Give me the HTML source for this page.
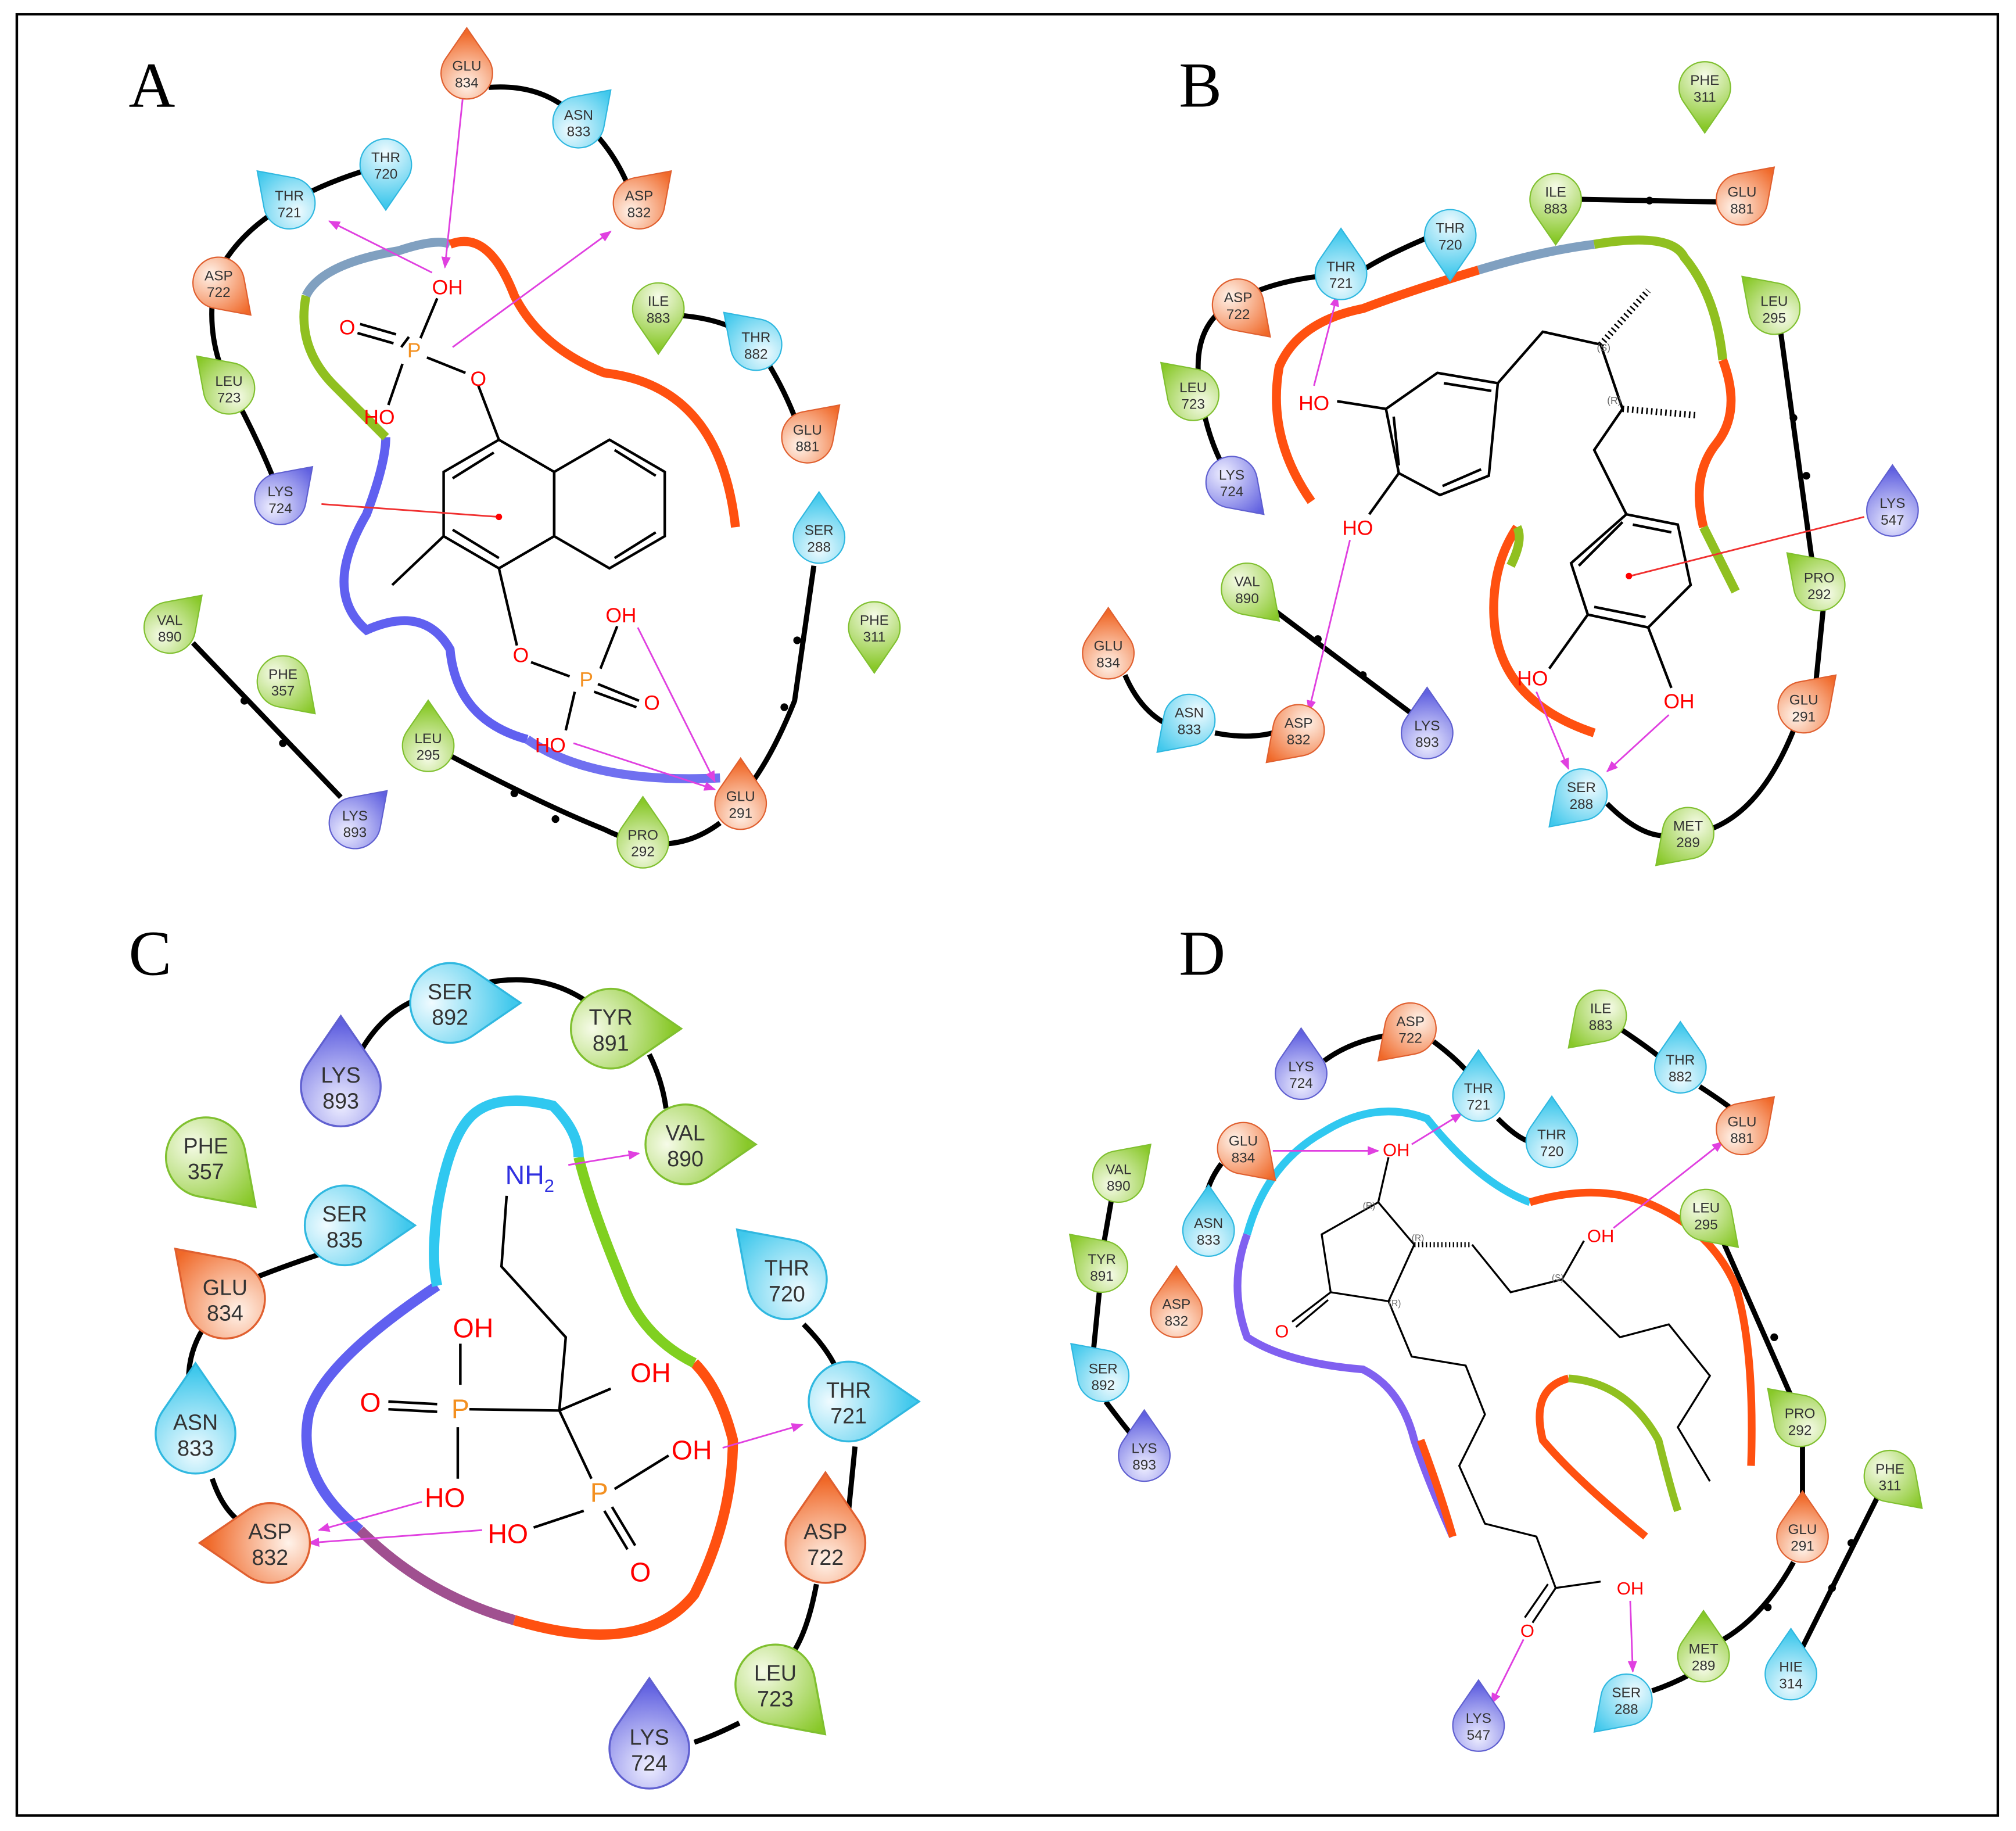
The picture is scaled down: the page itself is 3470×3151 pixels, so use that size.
<!DOCTYPE html>
<html><head><meta charset="utf-8"><style>
html,body{margin:0;padding:0;background:#fff}
svg{display:block}
text{font-family:"Liberation Sans",sans-serif}
.r text{font-size:11px;fill:#333;text-anchor:middle}
.big text{font-size:17px}
.lab{font-family:"Liberation Serif",serif;font-size:50px;fill:#000}
.at{font-size:16px;fill:#f00;text-anchor:middle}
.atc{font-size:21px;fill:#f00;text-anchor:middle}
.b{stroke:#000;stroke-width:2;fill:none}
.ch{stroke:#000;stroke-width:4;fill:none}
.hb{stroke:#e040e0;stroke-width:1.3;fill:none;marker-end:url(#ar)}
</style></head><body>
<svg width="3470" height="3151" viewBox="0 0 1568 1424" xmlns="http://www.w3.org/2000/svg">
<defs>
<radialGradient id="gO" cx="0.3" cy="0.3" r="0.9"><stop offset="0" stop-color="#fff3ea"/><stop offset="1" stop-color="#f06828"/></radialGradient>
<radialGradient id="gC" cx="0.3" cy="0.3" r="0.9"><stop offset="0" stop-color="#f0fbff"/><stop offset="1" stop-color="#40c8ec"/></radialGradient>
<radialGradient id="gG" cx="0.3" cy="0.3" r="0.9"><stop offset="0" stop-color="#f6fbe8"/><stop offset="1" stop-color="#88c828"/></radialGradient>
<radialGradient id="gP" cx="0.3" cy="0.3" r="0.9"><stop offset="0" stop-color="#eeeeff"/><stop offset="1" stop-color="#6060e0"/></radialGradient>
<path id="td" d="M19.67,-3.64 A20,20 0 1,0 -3.64,19.67 L25,25 Z"/>
<marker id="ar" viewBox="0 0 10 10" refX="9" refY="5" markerWidth="7" markerHeight="7" orient="auto"><path d="M0,1 L10,5 L0,9 Z" fill="#e040e0"/></marker>
</defs>
<rect x="13" y="11" width="1541" height="1401" fill="none" stroke="#000" stroke-width="2"/>
<text class="lab" x="100" y="83">A</text><text class="lab" x="917" y="83">B</text>
<text class="lab" x="100" y="758">C</text><text class="lab" x="917" y="758">D</text>

<!-- ============ PANEL A ============ -->
<g>
<path class="ch" d="M380,68 Q420,65 445,88 Q475,110 490,148"/>
<path class="ch" d="M300,128 Q255,140 225,158 Q185,180 168,215 Q158,260 178,300 Q200,340 215,378"/>
<path class="ch" d="M525,245 Q570,248 588,268 Q610,300 622,335"/>
<path class="ch" d="M633,440 L618,545 Q600,590 580,615"/>
<path class="ch" d="M345,585 Q420,625 470,645 Q520,670 560,640"/>
<path class="ch" d="M150,500 L265,620"/>
<g fill="#000"><circle cx="620" cy="498" r="3"/><circle cx="610" cy="550" r="3"/><circle cx="400" cy="617" r="3"/><circle cx="432" cy="637" r="3"/><circle cx="190" cy="545" r="3"/><circle cx="220" cy="578" r="3"/></g>
<path d="M410,575 Q355,560 350,505 Q330,470 285,490 Q250,460 285,400 Q300,360 300,340" stroke="#6060f0" stroke-width="7" fill="none"/>
<path d="M300,340 Q280,320 260,300 Q230,270 238,230" stroke="#90c020" stroke-width="7" fill="none"/>
<path d="M238,230 Q250,205 310,195 Q340,185 350,190" stroke="#80a0c0" stroke-width="7" fill="none"/>
<path d="M350,190 Q380,178 400,230 Q420,270 470,290 Q560,300 572,410" stroke="#ff5010" stroke-width="7" fill="none"/>
<path d="M410,575 Q460,610 560,605" stroke="#7070f0" stroke-width="7" fill="none"/>
<g class="b">
<polygon points="388,342 431,367 431,417 388,442 345,417 345,367"/>
<polygon points="474,342 517,367 517,417 474,442 431,417 431,367"/>
<path d="M352,372 L384,352 M352,412 L388,434 M478,350 L510,370 M510,414 L478,434"/>
<path d="M345,417 L305,455 M388,342 L372,300 M388,442 L402,502 M362,290 L332,278 M318,262 L312,270 M313,283 L302,315 M327,263 L340,232 M413,515 L443,526 M467,520 L480,487 M465,532 L497,545 M462,538 L495,550 M447,538 L440,568"/>
<path d="M308,260 L280,252 M306,267 L278,259"/></g>
<text class="at" x="372" y="300">O</text><text class="at" x="348" y="229">OH</text><text class="at" x="270" y="260">O</text>
<text x="322" y="278" style="font-size:16px;fill:#f39020;text-anchor:middle">P</text>
<text class="at" x="295" y="330">HO</text>
<text class="at" x="405" y="515">O</text><text x="456" y="534" style="font-size:16px;fill:#f39020;text-anchor:middle">P</text>
<text class="at" x="483" y="484">OH</text><text class="at" x="507" y="552">O</text><text class="at" x="428" y="585">HO</text>
<path class="hb" d="M360,75 L346,208"/><path class="hb" d="M336,212 L256,172"/><path class="hb" d="M352,270 L475,180"/>
<path d="M250,392 L388,402" stroke="#f03030" stroke-width="1.3"/><circle cx="388" cy="402" r="2.5" fill="#f00"/>
<path class="hb" d="M496,488 L556,608"/><path class="hb" d="M446,578 L556,614"/>
</g>

<!-- ============ PANEL B ============ -->
<g>
<path class="ch" d="M1228,155 L1335,157"/><circle cx="1283" cy="156" r="3"/>
<path class="ch" d="M1110,185 Q1075,200 1060,210 M1025,215 Q985,220 960,235 Q930,250 932,290 Q935,330 950,360"/>
<path class="ch" d="M1385,258 L1410,440 M1418,475 L1412,535"/><circle cx="1395" cy="325" r="3"/><circle cx="1405" cy="370" r="3"/>
<path class="ch" d="M985,470 L1098,555"/><circle cx="1025" cy="497" r="3"/><circle cx="1060" cy="525" r="3"/>
<path class="ch" d="M875,525 Q890,560 920,568 M945,570 Q970,575 990,570"/>
<path class="ch" d="M1250,625 Q1275,650 1295,650 M1330,645 Q1370,630 1395,568"/>
<path d="M1020,390 Q985,340 995,285 Q1010,250 1060,240 Q1100,225 1150,210" stroke="#ff5010" stroke-width="7" fill="none"/>
<path d="M1150,210 Q1200,195 1240,190" stroke="#80a0c0" stroke-width="7" fill="none"/>
<path d="M1240,190 Q1300,180 1310,200 Q1335,230 1340,280" stroke="#90c020" stroke-width="7" fill="none"/>
<path d="M1340,280 Q1355,320 1335,345 Q1315,370 1325,410" stroke="#ff5010" stroke-width="7" fill="none"/>
<path d="M1325,410 Q1340,440 1350,460" stroke="#90c020" stroke-width="7" fill="none"/>
<path d="M1180,410 Q1160,440 1162,480 Q1165,545 1240,570" stroke="#ff5010" stroke-width="7" fill="none"/>
<path d="M1180,410 Q1185,420 1175,440" stroke="#90c020" stroke-width="7" fill="none"/>
<g class="b"><polygon points="1078,318 1118,290 1165,298 1158,370 1120,385 1088,368"/>
<path d="M1123,298 L1160,304 M1152,365 L1122,378 M1088,362 L1084,324"/>
<path d="M1165,298 L1200,258 L1245,268 L1262,318 L1240,350 L1265,400"/>
<polygon points="1265,400 1305,408 1315,455 1282,488 1235,478 1222,438"/>
<path d="M1270,408 L1300,414 M1280,480 L1240,472 M1228,440 L1262,406"/>
<path d="M1078,318 L1040,312 M1088,368 L1065,400 M1235,478 L1205,520 M1282,488 L1300,535"/></g>
<path d="M1245,268 L1282,226" stroke="#000" stroke-width="5" stroke-dasharray="1.2 2.5"/>
<path d="M1262,318 L1320,323" stroke="#000" stroke-width="5" stroke-dasharray="1.2 2.5"/>
<text x="1242" y="273" style="font-size:8px;fill:#666">(S)</text><text x="1250" y="314" style="font-size:8px;fill:#666">(R)</text>
<text class="at" x="1022" y="319">HO</text><text class="at" x="1056" y="416">HO</text><text class="at" x="1192" y="533">HO</text><text class="at" x="1306" y="551">OH</text>
<path class="hb" d="M1022,300 L1040,230"/><path class="hb" d="M1050,420 L1018,553"/>
<path class="hb" d="M1195,538 L1220,598"/><path class="hb" d="M1298,556 L1250,600"/>
<path d="M1450,402 L1268,448" stroke="#f03030" stroke-width="1.3"/><circle cx="1267" cy="448" r="2.5" fill="#f00"/>
</g>

<!-- ============ PANEL C ============ -->
<g>
<path class="ch" d="M282,815 Q300,785 330,775 M375,765 Q420,755 455,778 M505,820 Q515,840 518,862"/>
<path class="ch" d="M250,975 Q220,985 195,995 M160,1030 Q140,1060 150,1095 M165,1150 Q175,1180 195,1188"/>
<path class="ch" d="M625,1030 Q645,1050 652,1068 M665,1125 L660,1175 M635,1232 Q628,1270 615,1288 M575,1340 Q555,1350 540,1355"/>
<path d="M340,1000 Q250,1060 240,1100 Q230,1150 280,1190" stroke="#6060f0" stroke-width="8" fill="none"/>
<path d="M280,1190 Q330,1240 400,1260" stroke="#a05090" stroke-width="8" fill="none"/>
<path d="M400,1260 Q500,1290 540,1240 Q570,1180 570,1120 Q560,1080 540,1060" stroke="#ff5010" stroke-width="8" fill="none"/>
<path d="M540,1060 Q500,1040 485,1000 Q460,940 450,900" stroke="#80d020" stroke-width="8" fill="none"/>
<path d="M340,1000 Q335,980 340,940 Q350,880 370,865 Q390,850 430,860 Q450,880 450,900" stroke="#30c8f0" stroke-width="8" fill="none"/>
<g class="b"><path d="M394,930 L390,985 L440,1040 L435,1097 L365,1096 M435,1097 L475,1080 M435,1097 L460,1150"/>
<path d="M358,1077 L358,1045 M356,1110 L356,1150 M340,1092 L302,1090 M340,1098 L302,1096 M478,1158 L520,1132 M454,1175 L415,1188 M470,1175 L488,1205 M476,1172 L494,1202"/></g>
<text x="412" y="921" style="font-size:21px;fill:#3030e0;text-anchor:middle">NH<tspan font-size="14" dy="6">2</tspan></text>
<text x="358" y="1103" style="font-size:21px;fill:#f39020;text-anchor:middle">P</text>
<text x="466" y="1168" style="font-size:21px;fill:#f39020;text-anchor:middle">P</text>
<text class="atc" x="368" y="1040">OH</text><text class="atc" x="288" y="1098">O</text><text class="atc" x="346" y="1172">HO</text>
<text class="atc" x="506" y="1075">OH</text><text class="atc" x="538" y="1135">OH</text><text class="atc" x="395" y="1200">HO</text><text class="atc" x="498" y="1230">O</text>
<path class="hb" d="M442,906 L497,897"/><path class="hb" d="M562,1126 L624,1108"/>
<path class="hb" d="M328,1168 L248,1190"/><path class="hb" d="M375,1190 L240,1200"/>
</g>

<!-- ============ PANEL D ============ -->
<g>
<path class="ch" d="M1030,825 Q1050,810 1080,805 M1115,810 Q1135,825 1145,838 M1165,870 Q1180,885 1190,888"/>
<path class="ch" d="M1260,800 Q1290,820 1300,830 M1322,845 Q1345,860 1350,865"/>
<path class="ch" d="M950,905 Q935,925 938,945"/>
<path class="ch" d="M865,930 L858,970 M855,1005 L850,1055 M860,1090 Q875,1110 882,1118"/>
<path class="ch" d="M1340,965 L1395,1090 M1402,1122 L1402,1180 M1395,1215 Q1370,1260 1335,1278"/>
<path class="ch" d="M1460,1165 L1400,1285"/><circle cx="1440" cy="1200" r="3"/><circle cx="1425" cy="1235" r="3"/><circle cx="1380" cy="1040" r="3"/><circle cx="1375" cy="1250" r="3"/>
<path class="ch" d="M1285,1315 Q1300,1310 1315,1302"/>
<path d="M1130,1195 Q1110,1150 1100,1120 Q1090,1080 1060,1065 Q1000,1060 970,1040 Q955,1000 970,960" stroke="#8060f0" stroke-width="6" fill="none"/>
<path d="M1130,1195 Q1120,1160 1105,1120" stroke="#ff5010" stroke-width="6" fill="none"/>
<path d="M970,960 Q985,905 1030,880 Q1070,855 1110,870 Q1150,920 1190,935" stroke="#30c8f0" stroke-width="6" fill="none"/>
<path d="M1190,935 Q1240,920 1280,935 Q1330,955 1350,1000 Q1365,1050 1362,1140" stroke="#ff5010" stroke-width="6" fill="none"/>
<path d="M1280,1195 Q1225,1150 1200,1120 Q1190,1080 1220,1072" stroke="#ff5010" stroke-width="6" fill="none"/>
<path d="M1220,1072 Q1265,1075 1290,1120 Q1300,1160 1305,1175" stroke="#90c020" stroke-width="6" fill="none"/>
<g class="b" style="stroke-width:1.5"><polygon points="1072,935 1100,968 1080,1012 1035,1005 1028,960"/>
<path d="M1035,1005 L1005,1028 M1033,1011 L1008,1032 M1072,935 L1080,900 M1080,1012 L1098,1055 L1140,1062 L1155,1100 L1135,1140 L1155,1185 L1195,1195 L1210,1235 L1245,1230 M1210,1235 L1192,1262 M1204,1232 L1186,1258"/>
<path d="M1145,968 L1175,1005 L1215,995 L1260,1040 L1298,1030 L1330,1070 L1305,1110 L1330,1152 M1215,995 L1232,965"/></g>
<path d="M1100,968 L1145,968" stroke="#000" stroke-width="4" stroke-dasharray="1 2"/>
<text class="at" x="1086" y="899" style="font-size:14px">OH</text><text class="at" x="997" y="1040" style="font-size:14px">O</text>
<text class="at" x="1245" y="966" style="font-size:14px">OH</text><text class="at" x="1268" y="1240" style="font-size:14px">OH</text><text class="at" x="1188" y="1273" style="font-size:14px">O</text>
<text x="1060" y="940" style="font-size:7px;fill:#666">(R)</text><text x="1098" y="965" style="font-size:7px;fill:#666">(R)</text><text x="1080" y="1016" style="font-size:7px;fill:#666">(R)</text><text x="1207" y="996" style="font-size:7px;fill:#666">(S)</text>
<path class="hb" d="M990,895 L1072,895"/><path class="hb" d="M1098,890 L1137,866"/><path class="hb" d="M1255,955 L1340,888"/>
<path class="hb" d="M1268,1245 L1270,1300"/><path class="hb" d="M1185,1275 L1160,1325"/>
</g>

<!-- ============ RESIDUES ============ -->
<g class="r">
<g transform="translate(363,57)"><use href="#td" fill="url(#gO)" stroke="#e06030" transform="rotate(-135)"/><text y="-2">GLU</text><text y="11">834</text></g>
<g transform="translate(450,95)"><use href="#td" fill="url(#gC)" stroke="#30b8e0" transform="rotate(-90)"/><text y="-2">ASN</text><text y="11">833</text></g>
<g transform="translate(300,128)"><use href="#td" fill="url(#gC)" stroke="#30b8e0" transform="rotate(45)"/><text y="-2">THR</text><text y="11">720</text></g>
<g transform="translate(225,158)"><use href="#td" fill="url(#gC)" stroke="#30b8e0" transform="rotate(-180)"/><text y="-2">THR</text><text y="11">721</text></g>
<g transform="translate(497,158)"><use href="#td" fill="url(#gO)" stroke="#e06030" transform="rotate(-90)"/><text y="-2">ASP</text><text y="11">832</text></g>
<g transform="translate(170,220)"><use href="#td" fill="url(#gO)" stroke="#e06030" transform="rotate(0)"/><text y="-2">ASP</text><text y="11">722</text></g>
<g transform="translate(512,240)"><use href="#td" fill="url(#gG)" stroke="#80c030" transform="rotate(45)"/><text y="-2">ILE</text><text y="11">883</text></g>
<g transform="translate(588,268)"><use href="#td" fill="url(#gC)" stroke="#30b8e0" transform="rotate(-180)"/><text y="-2">THR</text><text y="11">882</text></g>
<g transform="translate(178,302)"><use href="#td" fill="url(#gG)" stroke="#80c030" transform="rotate(-180)"/><text y="-2">LEU</text><text y="11">723</text></g>
<g transform="translate(628,340)"><use href="#td" fill="url(#gO)" stroke="#e06030" transform="rotate(-90)"/><text y="-2">GLU</text><text y="11">881</text></g>
<g transform="translate(218,388)"><use href="#td" fill="url(#gP)" stroke="#6060d0" transform="rotate(-90)"/><text y="-2">LYS</text><text y="11">724</text></g>
<g transform="translate(637,418)"><use href="#td" fill="url(#gC)" stroke="#30b8e0" transform="rotate(-135)"/><text y="-2">SER</text><text y="11">288</text></g>
<g transform="translate(680,488)"><use href="#td" fill="url(#gG)" stroke="#80c030" transform="rotate(45)"/><text y="-2">PHE</text><text y="11">311</text></g>
<g transform="translate(132,488)"><use href="#td" fill="url(#gG)" stroke="#80c030" transform="rotate(-90)"/><text y="-2">VAL</text><text y="11">890</text></g>
<g transform="translate(220,530)"><use href="#td" fill="url(#gG)" stroke="#80c030" transform="rotate(0)"/><text y="-2">PHE</text><text y="11">357</text></g>
<g transform="translate(333,580)"><use href="#td" fill="url(#gG)" stroke="#80c030" transform="rotate(-135)"/><text y="-2">LEU</text><text y="11">295</text></g>
<g transform="translate(576,625)"><use href="#td" fill="url(#gO)" stroke="#e06030" transform="rotate(-135)"/><text y="-2">GLU</text><text y="11">291</text></g>
<g transform="translate(500,655)"><use href="#td" fill="url(#gG)" stroke="#80c030" transform="rotate(-135)"/><text y="-2">PRO</text><text y="11">292</text></g>
<g transform="translate(276,640)"><use href="#td" fill="url(#gP)" stroke="#6060d0" transform="rotate(-90)"/><text y="-2">LYS</text><text y="11">893</text></g>
<g transform="translate(1326,68)"><use href="#td" fill="url(#gG)" stroke="#80c030" transform="rotate(45)"/><text y="-2">PHE</text><text y="11">311</text></g>
<g transform="translate(1210,155)"><use href="#td" fill="url(#gG)" stroke="#80c030" transform="rotate(45)"/><text y="-2">ILE</text><text y="11">883</text></g>
<g transform="translate(1355,155)"><use href="#td" fill="url(#gO)" stroke="#e06030" transform="rotate(-90)"/><text y="-2">GLU</text><text y="11">881</text></g>
<g transform="translate(1128,183)"><use href="#td" fill="url(#gC)" stroke="#30b8e0" transform="rotate(45)"/><text y="-2">THR</text><text y="11">720</text></g>
<g transform="translate(1043,213)"><use href="#td" fill="url(#gC)" stroke="#30b8e0" transform="rotate(-135)"/><text y="-2">THR</text><text y="11">721</text></g>
<g transform="translate(963,237)"><use href="#td" fill="url(#gO)" stroke="#e06030" transform="rotate(0)"/><text y="-2">ASP</text><text y="11">722</text></g>
<g transform="translate(1380,240)"><use href="#td" fill="url(#gG)" stroke="#80c030" transform="rotate(-180)"/><text y="-2">LEU</text><text y="11">295</text></g>
<g transform="translate(928,307)"><use href="#td" fill="url(#gG)" stroke="#80c030" transform="rotate(-180)"/><text y="-2">LEU</text><text y="11">723</text></g>
<g transform="translate(958,375)"><use href="#td" fill="url(#gP)" stroke="#6060d0" transform="rotate(0)"/><text y="-2">LYS</text><text y="11">724</text></g>
<g transform="translate(1472,397)"><use href="#td" fill="url(#gP)" stroke="#6060d0" transform="rotate(-135)"/><text y="-2">LYS</text><text y="11">547</text></g>
<g transform="translate(970,458)"><use href="#td" fill="url(#gG)" stroke="#80c030" transform="rotate(0)"/><text y="-2">VAL</text><text y="11">890</text></g>
<g transform="translate(1415,455)"><use href="#td" fill="url(#gG)" stroke="#80c030" transform="rotate(-180)"/><text y="-2">PRO</text><text y="11">292</text></g>
<g transform="translate(862,508)"><use href="#td" fill="url(#gO)" stroke="#e06030" transform="rotate(-135)"/><text y="-2">GLU</text><text y="11">834</text></g>
<g transform="translate(925,560)"><use href="#td" fill="url(#gC)" stroke="#30b8e0" transform="rotate(90)"/><text y="-2">ASN</text><text y="11">833</text></g>
<g transform="translate(1010,568)"><use href="#td" fill="url(#gO)" stroke="#e06030" transform="rotate(90)"/><text y="-2">ASP</text><text y="11">832</text></g>
<g transform="translate(1110,570)"><use href="#td" fill="url(#gP)" stroke="#6060d0" transform="rotate(-135)"/><text y="-2">LYS</text><text y="11">893</text></g>
<g transform="translate(1403,550)"><use href="#td" fill="url(#gO)" stroke="#e06030" transform="rotate(-90)"/><text y="-2">GLU</text><text y="11">291</text></g>
<g transform="translate(1230,618)"><use href="#td" fill="url(#gC)" stroke="#30b8e0" transform="rotate(90)"/><text y="-2">SER</text><text y="11">288</text></g>
<g transform="translate(1313,648)"><use href="#td" fill="url(#gG)" stroke="#80c030" transform="rotate(90)"/><text y="-2">MET</text><text y="11">289</text></g>
<g transform="translate(1097,800)"><use href="#td" fill="url(#gO)" stroke="#e06030" transform="rotate(90)"/><text y="-2">ASP</text><text y="11">722</text></g>
<g transform="translate(1245,790)"><use href="#td" fill="url(#gG)" stroke="#80c030" transform="rotate(90)"/><text y="-2">ILE</text><text y="11">883</text></g>
<g transform="translate(1012,835)"><use href="#td" fill="url(#gP)" stroke="#6060d0" transform="rotate(-135)"/><text y="-2">LYS</text><text y="11">724</text></g>
<g transform="translate(1150,852)"><use href="#td" fill="url(#gC)" stroke="#30b8e0" transform="rotate(-135)"/><text y="-2">THR</text><text y="11">721</text></g>
<g transform="translate(1307,830)"><use href="#td" fill="url(#gC)" stroke="#30b8e0" transform="rotate(-135)"/><text y="-2">THR</text><text y="11">882</text></g>
<g transform="translate(1207,888)"><use href="#td" fill="url(#gC)" stroke="#30b8e0" transform="rotate(-135)"/><text y="-2">THR</text><text y="11">720</text></g>
<g transform="translate(1355,878)"><use href="#td" fill="url(#gO)" stroke="#e06030" transform="rotate(-90)"/><text y="-2">GLU</text><text y="11">881</text></g>
<g transform="translate(967,893)"><use href="#td" fill="url(#gO)" stroke="#e06030" transform="rotate(0)"/><text y="-2">GLU</text><text y="11">834</text></g>
<g transform="translate(870,915)"><use href="#td" fill="url(#gG)" stroke="#80c030" transform="rotate(-90)"/><text y="-2">VAL</text><text y="11">890</text></g>
<g transform="translate(1327,945)"><use href="#td" fill="url(#gG)" stroke="#80c030" transform="rotate(0)"/><text y="-2">LEU</text><text y="11">295</text></g>
<g transform="translate(940,957)"><use href="#td" fill="url(#gC)" stroke="#30b8e0" transform="rotate(-135)"/><text y="-2">ASN</text><text y="11">833</text></g>
<g transform="translate(857,985)"><use href="#td" fill="url(#gG)" stroke="#80c030" transform="rotate(-180)"/><text y="-2">TYR</text><text y="11">891</text></g>
<g transform="translate(915,1020)"><use href="#td" fill="url(#gO)" stroke="#e06030" transform="rotate(-135)"/><text y="-2">ASP</text><text y="11">832</text></g>
<g transform="translate(858,1070)"><use href="#td" fill="url(#gC)" stroke="#30b8e0" transform="rotate(-180)"/><text y="-2">SER</text><text y="11">892</text></g>
<g transform="translate(1400,1105)"><use href="#td" fill="url(#gG)" stroke="#80c030" transform="rotate(-180)"/><text y="-2">PRO</text><text y="11">292</text></g>
<g transform="translate(890,1132)"><use href="#td" fill="url(#gP)" stroke="#6060d0" transform="rotate(-135)"/><text y="-2">LYS</text><text y="11">893</text></g>
<g transform="translate(1470,1148)"><use href="#td" fill="url(#gG)" stroke="#80c030" transform="rotate(0)"/><text y="-2">PHE</text><text y="11">311</text></g>
<g transform="translate(1402,1195)"><use href="#td" fill="url(#gO)" stroke="#e06030" transform="rotate(-135)"/><text y="-2">GLU</text><text y="11">291</text></g>
<g transform="translate(1325,1288)"><use href="#td" fill="url(#gG)" stroke="#80c030" transform="rotate(-135)"/><text y="-2">MET</text><text y="11">289</text></g>
<g transform="translate(1393,1302)"><use href="#td" fill="url(#gC)" stroke="#30b8e0" transform="rotate(-135)"/><text y="-2">HIE</text><text y="11">314</text></g>
<g transform="translate(1265,1322)"><use href="#td" fill="url(#gC)" stroke="#30b8e0" transform="rotate(90)"/><text y="-2">SER</text><text y="11">288</text></g>
<g transform="translate(1150,1342)"><use href="#td" fill="url(#gP)" stroke="#6060d0" transform="rotate(-135)"/><text y="-2">LYS</text><text y="11">547</text></g>
</g>
<g class="r big">
<g transform="translate(350,780) scale(1.55)"><use href="#td" fill="url(#gC)" stroke="#30b8e0" transform="rotate(-45)"/></g><text x="350" y="777">SER</text><text x="350" y="797">892</text>
<g transform="translate(475,800) scale(1.55)"><use href="#td" fill="url(#gG)" stroke="#80c030" transform="rotate(-45)"/></g><text x="475" y="797">TYR</text><text x="475" y="817">891</text>
<g transform="translate(265,845) scale(1.55)"><use href="#td" fill="url(#gP)" stroke="#6060d0" transform="rotate(-135)"/></g><text x="265" y="842">LYS</text><text x="265" y="862">893</text>
<g transform="translate(533,890) scale(1.55)"><use href="#td" fill="url(#gG)" stroke="#80c030" transform="rotate(-45)"/></g><text x="533" y="887">VAL</text><text x="533" y="907">890</text>
<g transform="translate(160,900) scale(1.55)"><use href="#td" fill="url(#gG)" stroke="#80c030" transform="rotate(0)"/></g><text x="160" y="897">PHE</text><text x="160" y="917">357</text>
<g transform="translate(268,953) scale(1.55)"><use href="#td" fill="url(#gC)" stroke="#30b8e0" transform="rotate(-45)"/></g><text x="268" y="950">SER</text><text x="268" y="970">835</text>
<g transform="translate(175,1010) scale(1.55)"><use href="#td" fill="url(#gO)" stroke="#e06030" transform="rotate(-180)"/></g><text x="175" y="1007">GLU</text><text x="175" y="1027">834</text>
<g transform="translate(612,995) scale(1.55)"><use href="#td" fill="url(#gC)" stroke="#30b8e0" transform="rotate(-180)"/></g><text x="612" y="992">THR</text><text x="612" y="1012">720</text>
<g transform="translate(152,1115) scale(1.55)"><use href="#td" fill="url(#gC)" stroke="#30b8e0" transform="rotate(-135)"/></g><text x="152" y="1112">ASN</text><text x="152" y="1132">833</text>
<g transform="translate(660,1090) scale(1.55)"><use href="#td" fill="url(#gC)" stroke="#30b8e0" transform="rotate(-45)"/></g><text x="660" y="1087">THR</text><text x="660" y="1107">721</text>
<g transform="translate(210,1200) scale(1.55)"><use href="#td" fill="url(#gO)" stroke="#e06030" transform="rotate(135)"/></g><text x="210" y="1197">ASP</text><text x="210" y="1217">832</text>
<g transform="translate(642,1200) scale(1.55)"><use href="#td" fill="url(#gO)" stroke="#e06030" transform="rotate(-135)"/></g><text x="642" y="1197">ASP</text><text x="642" y="1217">722</text>
<g transform="translate(603,1310) scale(1.55)"><use href="#td" fill="url(#gG)" stroke="#80c030" transform="rotate(0)"/></g><text x="603" y="1307">LEU</text><text x="603" y="1327">723</text>
<g transform="translate(505,1360) scale(1.55)"><use href="#td" fill="url(#gP)" stroke="#6060d0" transform="rotate(-135)"/></g><text x="505" y="1357">LYS</text><text x="505" y="1377">724</text>
</g>
</svg>
</body></html>
